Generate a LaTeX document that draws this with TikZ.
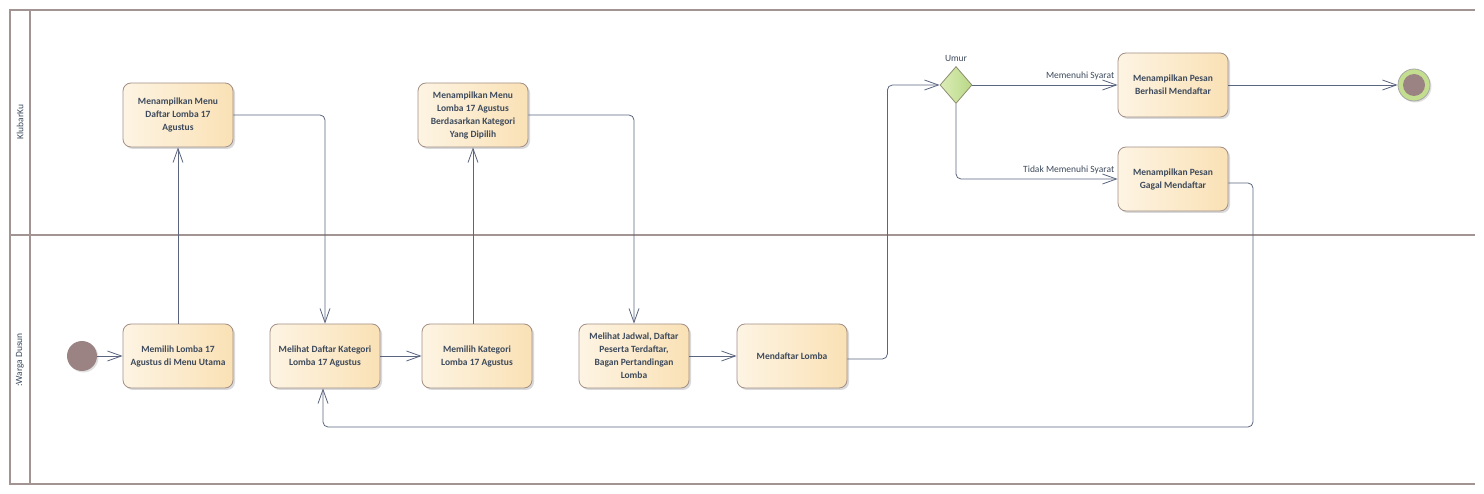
\documentclass[tikz,border=0pt]{standalone}
\usepackage{fontspec}
\setmainfont{Carlito}
\usetikzlibrary{arrows.meta,shapes.geometric,shadows}
\definecolor{laneC}{HTML}{A39494}
\definecolor{lineC}{HTML}{5B6580}
\definecolor{nodeL}{HTML}{FDF4E3}
\definecolor{nodeR}{HTML}{FAE1B5}
\definecolor{nodeB}{HTML}{A38F87}
\definecolor{txtC}{HTML}{3D4A5C}
\definecolor{startC}{HTML}{9A8382}
\definecolor{decL}{HTML}{DCEDB8}
\definecolor{decR}{HTML}{B8D885}
\definecolor{decB}{HTML}{8E8C6E}
\definecolor{endRing}{HTML}{C4DE8F}
\begin{document}
\begin{tikzpicture}[x=1pt,y=-1pt,
  act/.style={draw=nodeB, line width=0.8pt, rounded corners=8pt,
    left color=nodeL, right color=nodeR,
    minimum width=110pt, minimum height=64pt, inner sep=2pt, align=center,
    font=\fontsize{9.5}{13}\selectfont\bfseries, text=txtC,
    drop shadow={shadow xshift=2pt,shadow yshift=-2pt,opacity=0.25,fill=black!60}},
  flow/.style={draw=lineC, line width=0.8pt, rounded corners=5pt,
    -{Straight Barb[length=14pt,width=10pt,line width=0.8pt]}},
  lab/.style={font=\fontsize{9.5}{11}\selectfont, text=txtC, inner sep=1pt},
  lane/.style={draw=laneC, line width=1.5pt}]

\useasboundingbox (0,0) rectangle (1484,494);

% swimlanes
\draw[lane] (1475,10) -- (10,10) -- (10,484) -- (1475,484);
\draw[lane] (30,10) -- (30,484);
\draw[lane] (10,235) -- (1475,235);
\node[lab, rotate=90] (l1) at (20,122) {KlubarKu};
\node[lab, rotate=90] (l2) at (20,360) {:Warga Dusun};

% activities
\node[act] (a1) at (178,115) {Menampilkan Menu\\Daftar Lomba 17\\Agustus};
\node[act] (a2) at (473,115) {Menampilkan Menu\\Lomba 17 Agustus\\Berdasarkan Kategori\\Yang Dipilih};
\node[act] (w1) at (178,356) {Memilih Lomba 17\\Agustus di Menu Utama};
\node[act] (w2) at (325,356) {Melihat Daftar Kategori\\Lomba 17 Agustus};
\node[act] (w3) at (477,356) {Memilih Kategori\\Lomba 17 Agustus};
\node[act] (w4) at (634,356) {Melihat Jadwal, Daftar\\Peserta Terdaftar,\\Bagan Pertandingan\\Lomba};
\node[act] (w5) at (792,356) {Mendaftar Lomba};
\node[act] (a3) at (1173,85) {Menampilkan Pesan\\Berhasil Mendaftar};
\node[act] (a4) at (1173,179) {Menampilkan Pesan\\Gagal Mendaftar};

% start / end / decision
\node[circle, fill=startC, minimum size=30pt, inner sep=0pt,
  drop shadow={shadow xshift=1.5pt,shadow yshift=-1.5pt,opacity=0.2,fill=black!60}] (s) at (82,356) {};
\node[circle, draw=gray!70, fill=endRing, minimum size=32pt, inner sep=0pt, line width=0.8pt,
  drop shadow={shadow xshift=1.5pt,shadow yshift=-1.5pt,opacity=0.2,fill=black!60}] (e) at (1414,85) {};
\node[circle, fill=startC, minimum size=22pt, inner sep=0pt] (ei) at (e.center) {};
\node[diamond, draw=decB, line width=0.8pt, left color=decL, right color=decR,
  minimum width=32pt, minimum height=37pt, inner sep=0pt] (d) at (956,85) {};
\node[lab] (u) at (956,58) {Umur};

% flows
\draw[flow] (s) -- (w1);
\draw[flow] (w1.north) -- (a1.south);
\draw[flow] (a1.east) -| (w2.north);
\draw[flow] (w2) -- (w3);
\draw[flow] (a2.south |- w3.north) -- (a2.south);
\draw[flow] (a2.east) -| (w4.north);
\draw[flow] (w4) -- (w5);
\draw[flow] ([yshift=-3pt]w5.east) -- ++(40,0) |- (d.west);
\draw[flow] (d.east) -- (a3.west)
  node[lab, pos=1, anchor=south east, xshift=-2pt, yshift=4pt] {Memenuhi Syarat};
\draw[flow] (d.south) |- (a4.west)
  node[lab, pos=1, anchor=south east, xshift=-2pt, yshift=4pt] {Tidak Memenuhi Syarat};
\draw[flow] (a3.east) -- (e.west);
\coordinate (lp) at (1253,427);
\draw[flow] ([yshift=-4pt]a4.east) -| (lp) -| ([xshift=-2pt]w2.south);
\end{tikzpicture}
\end{document}
